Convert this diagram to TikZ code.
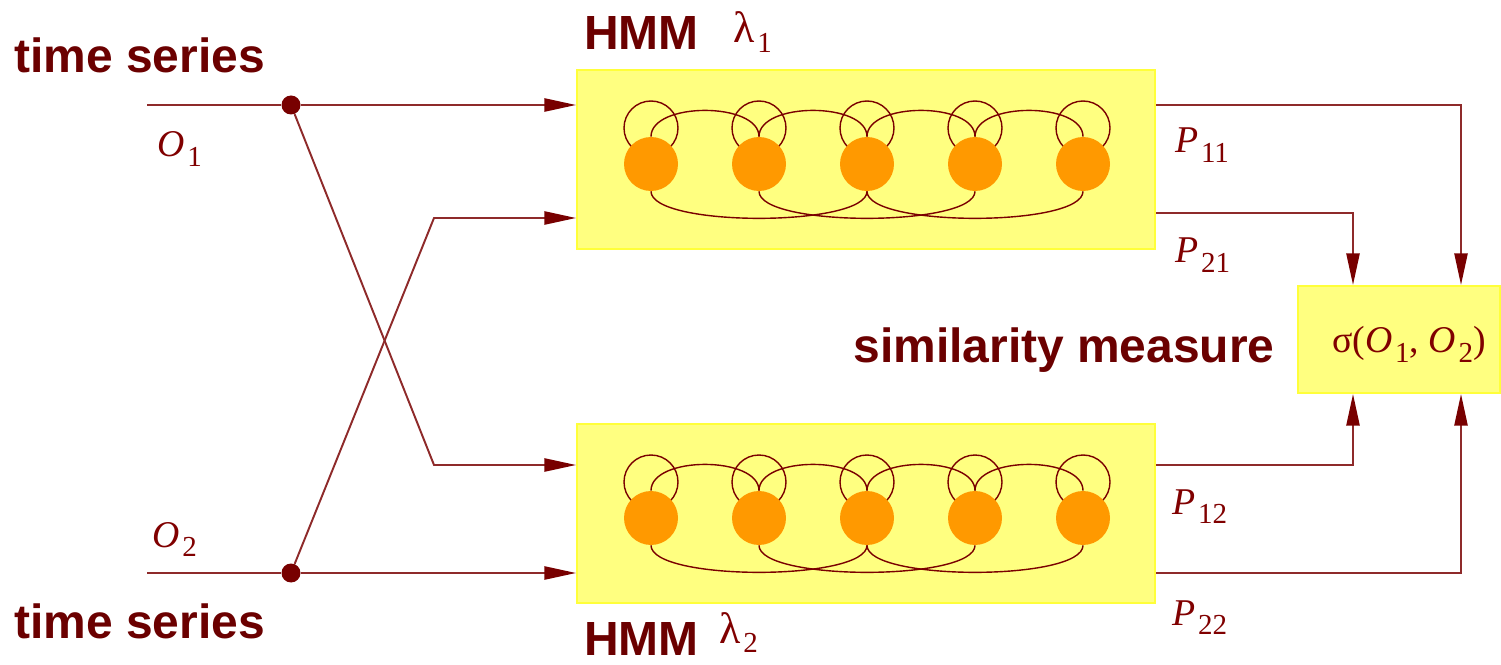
\documentclass[tikz,border=0pt]{standalone}
\usepackage{fontspec}
\setmainfont{Liberation Serif}
\newfontfamily\hvfont{Liberation Sans}
\usetikzlibrary{arrows.meta}
\definecolor{boldred}{HTML}{6B0000}
\definecolor{mathred}{HTML}{800000}
\definecolor{linered}{HTML}{8E2A2A}
\definecolor{dotred}{HTML}{780000}
\definecolor{hmmred}{HTML}{7A0000}
\definecolor{boxfill}{HTML}{FFFF80}
\definecolor{boxedge}{HTML}{FFFF3A}
\definecolor{stateorange}{HTML}{FF9900}
\pgfdeclarelayer{bg}\pgfdeclarelayer{mid}\pgfsetlayers{bg,mid,main}
\newcommand\sbs[1]{\kern1.5pt\raisebox{-5.5pt}{\fontsize{16.5}{18}\selectfont #1}}
\newcommand\mO[1]{\textit{O}\sbs{#1}}
\newcommand\mP[1]{\textit{P}\sbs{#1}}
\newcommand\lam{{\fontsize{25}{28}\selectfont λ}}
\begin{document}
\begin{tikzpicture}[x=0.02cm,y=-0.02cm,
  boldlbl/.style={font=\hvfont\bfseries\fontsize{27.3}{30}\selectfont, text=boldred, inner sep=0, anchor=base west},
  mathlbl/.style={font=\fontsize{21.5}{24}\selectfont, text=mathred, inner sep=0, anchor=base west},
  hmmbox/.style={draw=boxedge, fill=boxfill, line width=1.2pt, minimum width=11.56cm, minimum height=3.58cm, inner sep=0},
  simbox/.style={draw=boxedge, fill=boxfill, line width=1.2pt, minimum width=4.04cm, minimum height=2.14cm, inner sep=0},
  state/.style={circle, fill=stateorange, minimum size=1.08cm, inner sep=0},
  dot/.style={circle, fill=dotred, minimum size=0.38cm, inner sep=0},
  conn/.style={draw=linered, line width=1.1pt},
  arr/.style={conn, -{Triangle[length=18pt,width=7.5pt,color=dotred]}},
  hmmline/.style={draw=hmmred, line width=0.8pt}
]
\useasboundingbox (0,0) rectangle (1501,665);
% boxes
\begin{pgfonlayer}{bg}
\node[hmmbox] (h1) at (866,159.5) {};
\node[hmmbox] (h2) at (866,513.5) {};
\node[simbox] (sim) at (1399,339.5) {};
\end{pgfonlayer}
% states
\foreach \i/\x in {1/651,2/759,3/867,4/975,5/1083} {
  \node[state] (a\i) at (\x,164) {};
  \node[state] (b\i) at (\x,518) {};
}
\begin{pgfonlayer}{mid}
\foreach \r in {a,b} {
  \foreach \i in {1,...,5}
    \draw[hmmline] (\r\i.center) ++(0,-36) circle[radius=0.54cm];
  \foreach \i/\j in {1/2,2/3,3/4,4/5}
    \draw[hmmline] (\r\i.north) .. controls +(0,-35) and +(0,-35) .. (\r\j.north);
  \foreach \i/\j in {1/3,2/4,3/5}
    \draw[hmmline] (\r\i.south) .. controls +(0,36) and +(0,36) .. (\r\j.south);
}
\end{pgfonlayer}
% input side
\node[dot] (d1) at (291,105) {};
\node[dot] (d2) at (291,573) {};
\coordinate (s1) at (147,105);
\coordinate (s2) at (147,573);
\coordinate (k1) at (434,465);
\coordinate (k2) at (434,218);
\coordinate (p2) at (0,213);
\coordinate (r1) at (1461,0);
\coordinate (r2) at (1353,0);
\draw[conn] (s1) -- (d1);
\draw[conn] (s2) -- (d2);
\draw[arr] (d1) -- (h1.west |- d1);
\draw[arr] (d2) -- (h2.west |- d2);
\draw[arr] (d1) -- (k1) -- (h2.west |- k1);
\draw[arr] (d2) -- (k2) -- (h1.west |- k2);
% output side
\draw[arr] (h1.east |- d1) -| (r1 |- sim.north);
\draw[arr] (h1.east |- p2) -| (r2 |- sim.north);
\draw[arr] (h2.east |- k1) -| (r2 |- sim.south);
\draw[arr] (h2.east |- d2) -| (r1 |- sim.south);
% labels
\node[boldlbl] (ts1) at (14,73) {time series};
\node[boldlbl] (ts2) at (14,638) {time series};
\node[boldlbl] (hm1) at (584,50) {HMM};
\node[boldlbl] (hm2) at (584,655) {HMM};
\node[boldlbl, anchor=base east] (simlbl) at (1275,363) {similarity measure};
\node[mathlbl] (lam1) at (733,43) {\lam\sbs{1}};
\node[mathlbl] (lam2) at (719,643) {\lam\sbs{2}};
\node[mathlbl] (o1) at (157,157) {\mO{1}};
\node[mathlbl] (o2) at (152,547) {\mO{2}};
\node[mathlbl] (p11) at (1175,153) {\mP{11}};
\node[mathlbl] (p21) at (1175,263) {\mP{21}};
\node[mathlbl] (p12) at (1172,514) {\mP{12}};
\node[mathlbl] (p22) at (1172,625) {\mP{22}};
\node[mathlbl] (sig) at (1332,353) {σ(\mO{1}, \mO{2})};
\end{tikzpicture}
\end{document}
